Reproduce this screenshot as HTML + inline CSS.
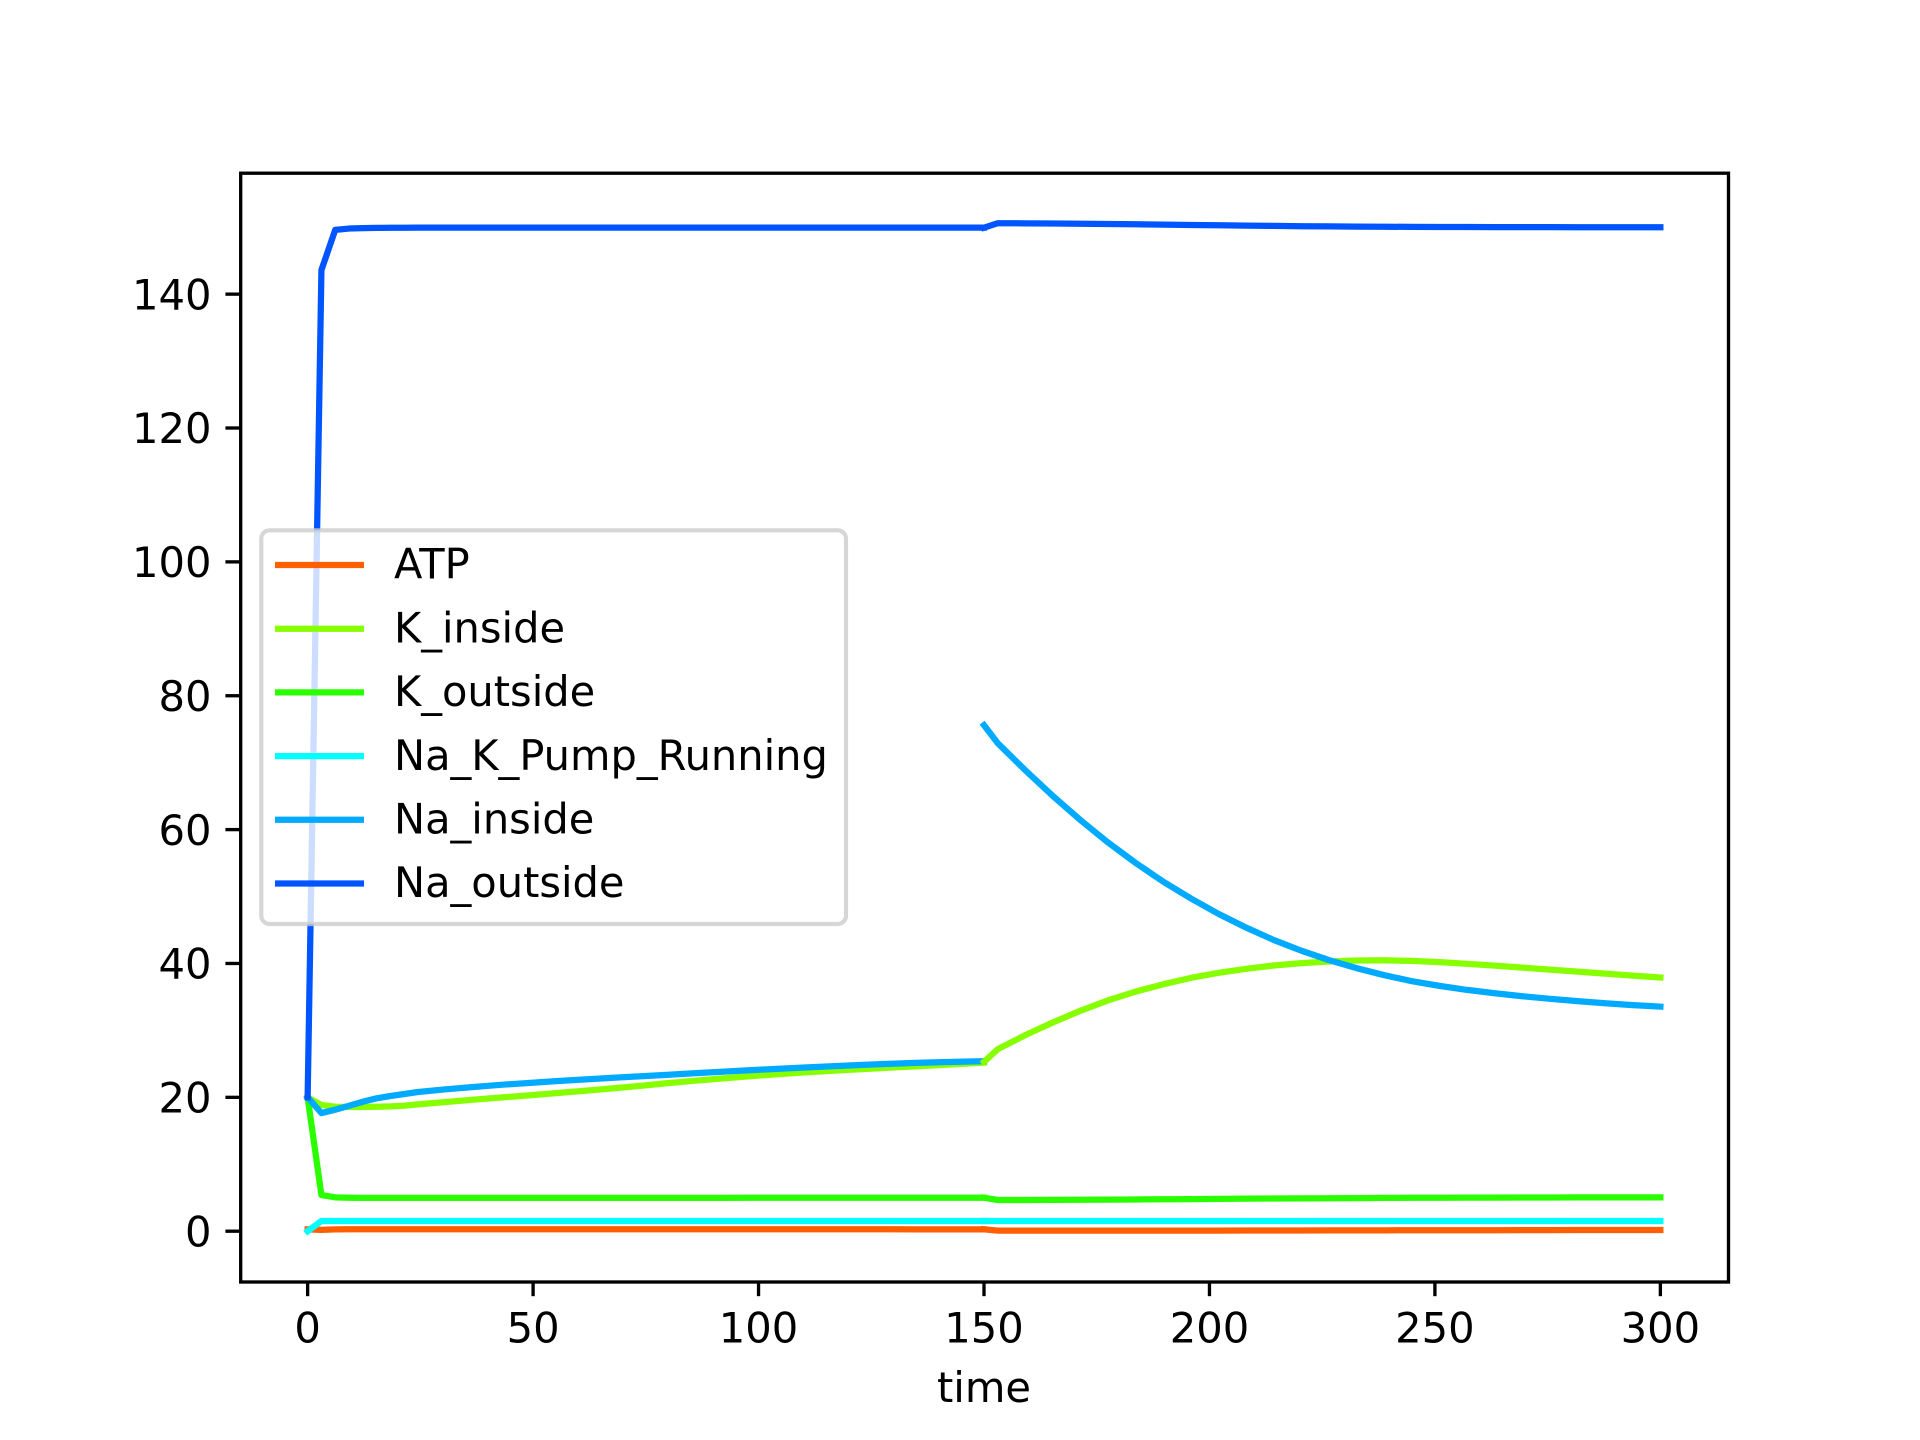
<!DOCTYPE html>
<html>
<head>
<meta charset="utf-8">
<title>Time series chart</title>
<style>
html,body{margin:0;padding:0;background:#fff;}
svg{display:block;}
text{font-family:"DejaVu Sans","Liberation Sans",sans-serif;font-size:41.667px;fill:#000;}
</style>
</head>
<body>
<svg id="chart" xmlns="http://www.w3.org/2000/svg" width="1920" height="1440" viewBox="0 0 1920 1440">
  <rect x="0" y="0" width="1920" height="1440" fill="#fff"/>
  <rect x="240" y="172.8" width="1488" height="1108.8" fill="#fff"/>
  <g id="series-layer"></g>
  <g id="legend-layer"></g>
  <g id="axis-layer"></g>
</svg>
<script>
const xTickValues = [0, 50, 100, 150, 200, 250, 300];
const yTickValues = [0, 20, 40, 60, 80, 100, 120, 140];
const seriesNames = ['ATP', 'K_inside', 'K_outside', 'Na_K_Pump_Running', 'Na_inside', 'Na_outside'];
const seriesColors = ['#ff5f00', '#88ff00', '#2aff00', '#00ffff', '#00aaff', '#0055ff'];

const timeBefore = [0, 3.06, 6.12, 9.18, 12.24, 15.31, 18.37, 21.43, 24.49, 30.61, 36.73, 42.86, 48.98, 55.1, 61.22, 67.35, 73.47, 79.59, 85.71, 91.84, 97.96, 104.08, 110.2, 116.33, 122.45, 128.57, 134.69, 140.82, 146.94, 150];
const timeAfter = [150, 153.06, 159.18, 165.31, 171.43, 177.55, 183.67, 189.8, 195.92, 202.04, 208.16, 214.29, 220.41, 226.53, 232.65, 238.78, 244.9, 251.02, 257.14, 263.27, 269.39, 275.51, 281.63, 287.76, 293.88, 300];

const atpBefore = [0.28, 0.2, 0.28, 0.3, 0.3, 0.3, 0.3, 0.3, 0.3, 0.3, 0.3, 0.3, 0.3, 0.3, 0.3, 0.3, 0.3, 0.3, 0.3, 0.3, 0.29, 0.29, 0.29, 0.29, 0.29, 0.29, 0.28, 0.28, 0.28, 0.28];
const kInsideBefore = [20, 18.85, 18.6, 18.55, 18.55, 18.6, 18.65, 18.75, 18.95, 19.3, 19.65, 19.97, 20.3, 20.63, 20.97, 21.32, 21.7, 22.1, 22.47, 22.82, 23.15, 23.45, 23.72, 23.97, 24.2, 24.42, 24.63, 24.85, 25.07, 25.2];
const kOutsideBefore = [20, 5.4, 5.06, 5.0, 4.98, 4.98, 4.98, 4.98, 4.98, 4.98, 4.98, 4.98, 4.98, 4.98, 4.98, 4.98, 4.98, 4.98, 4.98, 4.98, 4.99, 4.99, 4.99, 4.99, 4.99, 4.99, 5.0, 5.0, 5.0, 5.0];
const pumpBefore = [0, 1.52, 1.52, 1.52, 1.52, 1.52, 1.52, 1.52, 1.52, 1.52, 1.52, 1.52, 1.52, 1.52, 1.52, 1.52, 1.52, 1.52, 1.52, 1.52, 1.52, 1.52, 1.52, 1.52, 1.52, 1.52, 1.52, 1.52, 1.52, 1.52];
const naInsideBefore = [20, 17.65, 18.15, 18.75, 19.35, 19.85, 20.2, 20.5, 20.8, 21.2, 21.55, 21.87, 22.15, 22.42, 22.67, 22.9, 23.13, 23.36, 23.6, 23.83, 24.05, 24.26, 24.46, 24.65, 24.83, 25.0, 25.14, 25.26, 25.35, 25.4];
const naOutsideBefore = [20, 143.6, 149.6, 149.8, 149.87, 149.9, 149.92, 149.92, 149.93, 149.93, 149.93, 149.93, 149.93, 149.93, 149.93, 149.93, 149.93, 149.93, 149.93, 149.93, 149.93, 149.93, 149.93, 149.93, 149.93, 149.93, 149.93, 149.93, 149.93, 149.93];

const atpAfter = [0.28, 0.08, 0.08, 0.08, 0.08, 0.08, 0.08, 0.08, 0.09, 0.09, 0.1, 0.1, 0.11, 0.12, 0.12, 0.13, 0.14, 0.14, 0.15, 0.15, 0.16, 0.16, 0.17, 0.17, 0.18, 0.18];
const kInsideAfter = [25.3, 27.2, 29.3, 31.2, 32.95, 34.5, 35.8, 36.9, 37.85, 38.6, 39.2, 39.7, 40.05, 40.3, 40.45, 40.48, 40.38, 40.2, 39.95, 39.67, 39.38, 39.08, 38.78, 38.48, 38.19, 37.9];
const kOutsideAfter = [5.0, 4.66, 4.67, 4.68, 4.7, 4.72, 4.74, 4.77, 4.8, 4.83, 4.86, 4.88, 4.91, 4.93, 4.95, 4.97, 4.99, 5.0, 5.01, 5.02, 5.03, 5.04, 5.05, 5.05, 5.06, 5.06];
const pumpAfter = [1.52, 1.52, 1.52, 1.52, 1.52, 1.52, 1.52, 1.52, 1.52, 1.52, 1.52, 1.52, 1.52, 1.52, 1.52, 1.52, 1.52, 1.52, 1.52, 1.52, 1.52, 1.52, 1.52, 1.52, 1.52, 1.52];
const naInsideAfter = [75.6, 72.9, 68.85, 65.0, 61.4, 58.05, 55.0, 52.2, 49.7, 47.4, 45.35, 43.5, 41.9, 40.5, 39.3, 38.25, 37.35, 36.65, 36.05, 35.55, 35.1, 34.72, 34.38, 34.06, 33.78, 33.55];
const naOutsideAfter = [149.93, 150.6, 150.58, 150.56, 150.52, 150.48, 150.44, 150.39, 150.34, 150.29, 150.24, 150.2, 150.15, 150.12, 150.09, 150.07, 150.05, 150.04, 150.03, 150.02, 150.01, 150.01, 150.0, 150.0, 150.0, 150.0];

const valuesBefore = [atpBefore, kInsideBefore, kOutsideBefore, pumpBefore, naInsideBefore, naOutsideBefore];
const valuesAfter = [atpAfter, kInsideAfter, kOutsideAfter, pumpAfter, naInsideAfter, naOutsideAfter];

const NS = 'http://www.w3.org/2000/svg';
const plotLeft = 240, plotRight = 1728, plotTop = 172.8, plotBottom = 1281.6;
const xMin = -15, xMax = 315, yMin = -7.53, yMax = 158.13;

function xScale(v) { return plotLeft + (v - xMin) / (xMax - xMin) * (plotRight - plotLeft); }
function yScale(v) { return plotBottom - (v - yMin) / (yMax - yMin) * (plotBottom - plotTop); }

function make(tag, attrs, parent) {
  const el = document.createElementNS(NS, tag);
  for (const k in attrs) el.setAttribute(k, attrs[k]);
  parent.appendChild(el);
  return el;
}
function slug(s) { return s.toLowerCase().replace(/_/g, '-'); }

const seriesLayer = document.getElementById('series-layer');
function drawSegment(times, values, suffix) {
  values.forEach(function (vals, i) {
    const pts = vals.map(function (v, j) {
      return xScale(times[j]).toFixed(2) + ',' + yScale(v).toFixed(2);
    }).join(' ');
    const line = make('polyline', {
      points: pts, fill: 'none', stroke: seriesColors[i], 'stroke-width': 6.25,
      'stroke-linecap': 'square', 'stroke-linejoin': 'round'
    }, seriesLayer);
    
    
  });
}
drawSegment(timeBefore, valuesBefore, 'before');
drawSegment(timeAfter, valuesAfter, 'after');

const legendLayer = document.getElementById('legend-layer');
const legendFrame = make('rect', {
  x: 261.3, y: 530.3, width: 584.7, height: 393.7, rx: 8.3, ry: 8.3,
  fill: '#fff', 'fill-opacity': 0.8, stroke: '#ccc', 'stroke-opacity': 0.8, 'stroke-width': 4.17
}, legendLayer);


seriesNames.forEach(function (name, i) {
  const y = 565 + i * 63.7;
  const handle = make('line', {
    x1: 278.1, x2: 360.9, y1: y, y2: y, stroke: seriesColors[i],
    'stroke-width': 6.25, 'stroke-linecap': 'square'
  }, legendLayer);
  
  
  const label = make('text', { x: 394, y: y + 13.7, style: 'font-size:41.55px' }, legendLayer);
  label.textContent = name;
  
  
});

const axisLayer = document.getElementById('axis-layer');
xTickValues.forEach(function (v) {
  const x = xScale(v);
  const tick = make('line', { x1: x, x2: x, y1: plotBottom, y2: plotBottom + 14.58, stroke: '#000', 'stroke-width': 3.33 }, axisLayer);
  
  
  const label = make('text', { x: x, y: 1342.5, 'text-anchor': 'middle' }, axisLayer);
  label.textContent = String(v);
  
  
});
yTickValues.forEach(function (v) {
  const y = yScale(v);
  const tick = make('line', { x1: plotLeft - 14.58, x2: plotLeft, y1: y, y2: y, stroke: '#000', 'stroke-width': 3.33 }, axisLayer);
  
  
  const label = make('text', { x: 211.5, y: y + 15.2, 'text-anchor': 'end' }, axisLayer);
  label.textContent = String(v);
  
  
});
const frame = make('rect', {
  x: 240.7, y: 173.2, width: 1487.8, height: 1108.8,
  fill: 'none', stroke: '#000', 'stroke-width': 3.33, 'stroke-linejoin': 'miter'
}, axisLayer);


const xTitle = make('text', { x: 984, y: 1402, 'text-anchor': 'middle' }, axisLayer);
xTitle.textContent = 'time';


</script>
</body>
</html>
